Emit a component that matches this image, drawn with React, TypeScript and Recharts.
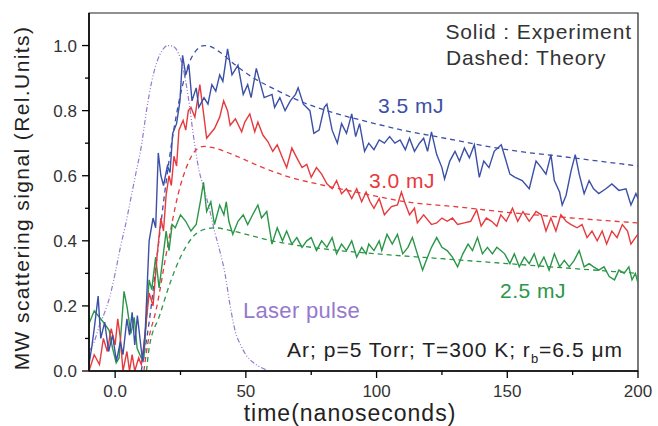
import { LineChart, Line, XAxis, YAxis, ReferenceArea } from "recharts";

// [time (ns), signal] pairs
const blueExp: [number, number][] = [
  [-10, 0.02], [-9, 0.07], [-8, 0.13], [-6.5, 0.23], [-5.5, 0.1], [-4, 0.15], [-2.5, 0.06], [-1, 0.11],
  [0.5, 0.03], [2, 0.09], [3, 0.05], [4.5, 0.16], [5.5, 0.11], [6.5, 0.18], [7.5, 0.08], [8.5, 0.17],
  [9.5, 0.1], [10.5, 0.03], [11.5, 0.12], [13, 0.4], [14.5, 0.47], [15.5, 0.44], [16.5, 0.67], [17.5, 0.6],
  [18.5, 0.57], [20, 0.63], [21, 0.61], [22, 0.73], [23.5, 0.76], [24.8, 0.83], [25.8, 0.97], [27, 0.91],
  [28.2, 0.94], [29.4, 0.83], [31, 0.87], [32, 0.81], [34, 0.84], [35.5, 0.82], [37, 0.88], [38.5, 0.86],
  [40, 0.91], [41.2, 0.89], [43, 0.99], [44.7, 0.91], [47, 0.94], [49, 0.85], [50.7, 0.88], [52, 0.84],
  [54, 0.93], [56, 0.87], [57, 0.84], [60, 0.85], [61, 0.81], [63, 0.84], [65, 0.8], [67, 0.83],
  [69, 0.85], [70, 0.87], [72, 0.82], [74.5, 0.8], [76, 0.73], [78, 0.74], [80, 0.81], [81, 0.82],
  [83, 0.74], [85, 0.7], [86.6, 0.76], [88.5, 0.73], [90.5, 0.79], [92, 0.72], [93.5, 0.76], [95.4, 0.675],
  [97, 0.7], [99, 0.68], [101, 0.71], [103, 0.7], [105, 0.72], [107, 0.7], [109, 0.71], [111, 0.68],
  [112.6, 0.715], [114.5, 0.675], [116.4, 0.7], [118, 0.715], [119.5, 0.675], [121, 0.735], [123, 0.665],
  [125, 0.625], [126, 0.59], [128, 0.645], [130, 0.675], [131.7, 0.645], [133.6, 0.685], [135.5, 0.655],
  [137.4, 0.695], [139.3, 0.595], [141, 0.645], [143, 0.625], [145, 0.675], [147.7, 0.695], [149, 0.66],
  [151, 0.605], [153, 0.595], [155.7, 0.585], [158.4, 0.56], [161, 0.645], [163, 0.625], [164.8, 0.605],
  [166.7, 0.665], [168, 0.585], [170, 0.55], [171, 0.51], [172.5, 0.54], [174.4, 0.615], [176, 0.665],
  [177.5, 0.605], [179.4, 0.545], [181.3, 0.585], [183, 0.56], [185, 0.545], [187.7, 0.56], [190, 0.575],
  [192.7, 0.555], [195.4, 0.56], [197.3, 0.51], [199.2, 0.545], [200, 0.53],
];

const redExp: [number, number][] = [
  [-10, 0.0], [-8, 0.05], [-6, 0.02], [-4.5, 0.1], [-3, 0.06], [-1.5, 0.13], [0, 0.08], [1, 0.16],
  [2, 0.1], [3, 0.0], [4.5, 0.06], [5.5, 0.0], [6.5, 0.05], [7.5, 0.0], [9, 0.04], [10, 0.02],
  [11, 0.08], [12, 0.16], [13, 0.24], [14.5, 0.2], [16, 0.35], [17.5, 0.47], [18.5, 0.43], [19.5, 0.54],
  [20.6, 0.6], [21.5, 0.57], [22.5, 0.66], [23.5, 0.63], [24.4, 0.74], [26, 0.77], [27, 0.74], [28, 0.8],
  [29, 0.81], [30.5, 0.78], [32.4, 0.88], [34, 0.78], [35, 0.715], [36, 0.725], [38, 0.745], [40, 0.78],
  [41.5, 0.83], [43, 0.8], [44, 0.755], [46, 0.775], [48.4, 0.735], [49.6, 0.765], [51.5, 0.79],
  [53.4, 0.735], [54.6, 0.765], [56.5, 0.725], [58.4, 0.705], [60.3, 0.675], [62, 0.695], [64, 0.655],
  [65.6, 0.625], [67.6, 0.685], [69.5, 0.655], [71.5, 0.625], [73.3, 0.635], [75, 0.595], [77, 0.625],
  [79, 0.605], [81, 0.575], [83, 0.56], [84.7, 0.585], [86.6, 0.545], [88.5, 0.56], [90.5, 0.53],
  [92.4, 0.56], [94.3, 0.52], [96, 0.55], [97.5, 0.52], [99, 0.5], [101, 0.53], [103, 0.48],
  [105.7, 0.505], [108, 0.51], [109.5, 0.55], [110.7, 0.52], [112.6, 0.48], [114.5, 0.5], [115.6, 0.455],
  [118, 0.48], [121, 0.45], [123, 0.455], [125, 0.47], [127, 0.46], [129, 0.47], [131, 0.45],
  [133.6, 0.455], [136, 0.46], [138.3, 0.495], [140, 0.445], [142, 0.47], [144, 0.46], [146, 0.445],
  [147.5, 0.48], [149.6, 0.46], [152, 0.5], [154, 0.46], [156, 0.49], [158.4, 0.46], [161, 0.49],
  [163, 0.48], [164.8, 0.43], [166.7, 0.47], [168.6, 0.43], [170.5, 0.48], [172.5, 0.46], [174.4, 0.45],
  [176.7, 0.44], [178.6, 0.45], [180.5, 0.41], [182.4, 0.43], [184.4, 0.4], [186.3, 0.43], [188, 0.39],
  [190, 0.43], [192, 0.41], [194, 0.45], [196, 0.43], [197.3, 0.39], [199, 0.41], [200, 0.42],
];

const greenExp: [number, number][] = [
  [-10, 0.145], [-8, 0.185], [-6, 0.165], [-4, 0.145], [-2.3, 0.125], [-1, 0.07], [0.4, 0.025],
  [1.5, 0.04], [3.4, 0.245], [4.6, 0.195], [6, 0.115], [7.3, 0.165], [8.4, 0.07], [10, 0.04], [11, 0.04],
  [11.8, 0.145], [13, 0.28], [14, 0.25], [15.5, 0.35], [16.8, 0.255], [18, 0.33], [19.5, 0.43],
  [20.6, 0.37], [21.8, 0.45], [23, 0.44], [25, 0.48], [27, 0.46], [29, 0.43], [31, 0.45], [32.8, 0.53],
  [33.8, 0.58], [35, 0.49], [36.6, 0.52], [38, 0.45], [40, 0.51], [41.6, 0.48], [42.5, 0.52],
  [43.5, 0.46], [45, 0.42], [47, 0.46], [49, 0.48], [50.7, 0.45], [52.6, 0.48], [54.6, 0.51], [56, 0.47],
  [58, 0.49], [60, 0.39], [62, 0.44], [64, 0.4], [65.6, 0.43], [67.6, 0.39], [69.5, 0.41], [71.5, 0.38],
  [73.3, 0.4], [75, 0.41], [77, 0.37], [79, 0.4], [81, 0.38], [83, 0.41], [84.7, 0.36], [86.6, 0.39],
  [88.5, 0.37], [90.5, 0.4], [92.4, 0.35], [94.3, 0.38], [96, 0.36], [97, 0.39], [99, 0.37], [101, 0.4],
  [102, 0.37], [104, 0.42], [106, 0.39], [108, 0.42], [110, 0.36], [112, 0.38], [113.7, 0.41],
  [115.6, 0.36], [117.6, 0.31], [119.5, 0.35], [121, 0.38], [123, 0.41], [125, 0.38], [127, 0.37],
  [129, 0.35], [131, 0.32], [133, 0.36], [135, 0.39], [136.7, 0.37], [138.6, 0.41], [140.5, 0.36],
  [142.4, 0.38], [144.3, 0.36], [146, 0.38], [147.5, 0.37], [149, 0.36], [151, 0.33], [152.7, 0.36],
  [154.6, 0.32], [156.5, 0.35], [158.4, 0.33], [160.3, 0.36], [162, 0.32], [164, 0.35], [166, 0.31],
  [168, 0.36], [170, 0.32], [171.8, 0.34], [173.7, 0.32], [175.6, 0.34], [177.5, 0.37], [179.4, 0.32],
  [181.3, 0.33], [183, 0.32], [185, 0.31], [187, 0.32], [189, 0.29], [191, 0.28], [192.7, 0.31],
  [194.7, 0.3], [196.5, 0.32], [197.7, 0.28], [199, 0.3], [200, 0.27],
];

const blueTheory: [number, number][] = [
  [10, 0], [13, 0.15], [16, 0.35], [19, 0.55], [22, 0.72], [25, 0.85], [28, 0.94], [31, 0.985],
  [34, 1.0], [37, 0.995], [40, 0.98], [46, 0.94], [53, 0.9], [60, 0.87], [72, 0.825], [85, 0.79],
  [97, 0.765], [110, 0.74], [123, 0.72], [150, 0.68], [175, 0.655], [200, 0.63],
];

const redTheory: [number, number][] = [
  [11, 0], [12, 0.06], [16, 0.2], [20, 0.38], [24, 0.54], [28, 0.64], [31, 0.68], [34, 0.69],
  [38, 0.685], [45, 0.665], [55, 0.63], [65, 0.6], [80, 0.57], [95, 0.545], [111, 0.52], [130, 0.505],
  [147, 0.49], [175, 0.47], [200, 0.455],
];

const greenTheory: [number, number][] = [
  [12, 0], [13, 0.07], [17, 0.17], [21, 0.27], [25, 0.35], [29.5, 0.41], [34, 0.435], [38, 0.44],
  [45, 0.43], [60, 0.4], [80, 0.375], [100, 0.36], [125, 0.345], [150, 0.33], [175, 0.315], [200, 0.3],
];

const laserPulse: [number, number][] = [
  [-10, 0.06], [-8, 0.09], [-6, 0.14], [-4, 0.18], [-2, 0.23], [0, 0.3], [2, 0.38], [4, 0.45],
  [6, 0.53], [8, 0.61], [10, 0.69], [12, 0.8], [14, 0.89], [16, 0.95], [18, 0.985], [20, 1.0],
  [22, 0.998], [24, 0.98], [26, 0.93], [28, 0.84], [30, 0.72], [32, 0.62], [34, 0.56], [36, 0.5],
  [38, 0.43], [40, 0.37], [42, 0.3], [44, 0.2], [46, 0.12], [48, 0.08], [50, 0.05], [53, 0.025],
  [56, 0.01], [60, 0], [200, 0],
];

const xTicks = [0, 25, 50, 75, 100, 125, 150, 175, 200];
const yTicks = [0, 0.1, 0.2, 0.3, 0.4, 0.5, 0.6, 0.7, 0.8, 0.9, 1.0];

const BLUE = "#3b50a6";
const RED = "#e63a3e";
const GREEN = "#2a9648";
const PURPLE = "#9579cc";
const FONT = "'Liberation Sans', Arial, sans-serif";

const pts = (arr: [number, number][]) => arr.map(([t, v]) => ({ t, v }));

function XTick({ x, y, payload }: any) {
  const major = payload.value % 50 === 0;
  const y0 = y - 10;
  return (
    <g>
      <line x1={x} x2={x} y1={y0} y2={y0 + (major ? 7 : 4)} stroke="#000" strokeWidth={1.3} />
      {major && (
        <text x={x} y={y0 + 26} textAnchor="middle" fontSize={17} fontFamily={FONT} fill="#333">
          {payload.value === 0 ? "0.0" : payload.value}
        </text>
      )}
    </g>
  );
}

function YTick({ x, y, payload }: any) {
  const major = Math.round(payload.value * 10) % 2 === 0;
  const x0 = x + 10;
  return (
    <g>
      <line x1={x0 - (major ? 7 : 4)} x2={x0} y1={y} y2={y} stroke="#000" strokeWidth={1.3} />
      {major && (
        <text x={x0 - 12} y={y + 6} textAnchor="end" fontSize={17} fontFamily={FONT} fill="#333">
          {payload.value.toFixed(1)}
        </text>
      )}
    </g>
  );
}

export default function App() {
  return (
    <div style={{ position: "absolute", left: 0, top: 0, width: 658, height: 426, background: "#fff" }}>
      <LineChart width={658} height={426} margin={{ top: 13, right: 20, left: 0, bottom: 15 }}>
        <XAxis
          dataKey="t"
          type="number"
          domain={[-10, 200]}
          ticks={xTicks}
          tick={<XTick />}
          tickLine={false}
          tickSize={6}
          tickMargin={4}
          height={40}
          axisLine={{ stroke: "#000", strokeWidth: 1.5 }}
          allowDataOverflow
        />
        <YAxis
          type="number"
          domain={[0, 1.1]}
          ticks={yTicks}
          tick={<YTick />}
          tickLine={false}
          tickSize={6}
          tickMargin={4}
          width={89}
          axisLine={{ stroke: "#000", strokeWidth: 1.5 }}
          allowDataOverflow
        />
        <ReferenceArea x1={-10} x2={200} y1={0} y2={1.1} fill="none" stroke="#222" strokeWidth={1.2} />
        <Line data={pts(laserPulse)} dataKey="v" type="monotone" stroke={PURPLE} strokeWidth={1.2}
          strokeDasharray="5 2 1 2 1 2" dot={false} isAnimationActive={false} />
        <Line data={pts(greenTheory)} dataKey="v" type="monotone" stroke={GREEN} strokeWidth={1.3}
          strokeDasharray="5 4" dot={false} isAnimationActive={false} />
        <Line data={pts(redTheory)} dataKey="v" type="monotone" stroke={RED} strokeWidth={1.3}
          strokeDasharray="5 4" dot={false} isAnimationActive={false} />
        <Line data={pts(blueTheory)} dataKey="v" type="monotone" stroke={BLUE} strokeWidth={1.3}
          strokeDasharray="5 4" dot={false} isAnimationActive={false} />
        <Line data={pts(greenExp)} dataKey="v" type="linear" stroke={GREEN} strokeWidth={1.4}
          dot={false} isAnimationActive={false} />
        <Line data={pts(redExp)} dataKey="v" type="linear" stroke={RED} strokeWidth={1.4}
          dot={false} isAnimationActive={false} />
        <Line data={pts(blueExp)} dataKey="v" type="linear" stroke={BLUE} strokeWidth={1.4}
          dot={false} isAnimationActive={false} />
      </LineChart>
      <svg width={658} height={426} style={{ position: "absolute", left: 0, top: 0, pointerEvents: "none" }}
        fontFamily={FONT}>
        <text x={23} y={198} transform="rotate(-90 23 198)" textAnchor="middle" dominantBaseline="middle"
          fontSize={21} letterSpacing={1.4} fill="#222">MW scattering signal (Rel.Units)</text>
        <text x={350} y={421} textAnchor="middle" fontSize={23} letterSpacing={1} fill="#222">time(nanoseconds)</text>
        <text x={632} y={39} textAnchor="end" fontSize={21} letterSpacing={0.9} fill="#333">Solid : Experiment</text>
        <text x={446} y={65} fontSize={21} letterSpacing={0.8} fill="#333">Dashed: Theory</text>
        <text x={378} y={113} fontSize={21} letterSpacing={0.5} fill={BLUE}>3.5 mJ</text>
        <text x={369} y={188} fontSize={21} letterSpacing={0.5} fill={RED}>3.0 mJ</text>
        <text x={500} y={298} fontSize={21} letterSpacing={0.5} fill={GREEN}>2.5 mJ</text>
        <text x={243} y={318} fontSize={22} letterSpacing={0.3} fill={PURPLE}>Laser pulse</text>
        <text x={623} y={357} textAnchor="end" fontSize={21} letterSpacing={1} fill="#222">
          Ar; p=5 Torr; T=300 K; r<tspan fontSize={13} dy={6}>b</tspan>
          <tspan dy={-6}>=6.5 μm</tspan>
        </text>
      </svg>
    </div>
  );
}
